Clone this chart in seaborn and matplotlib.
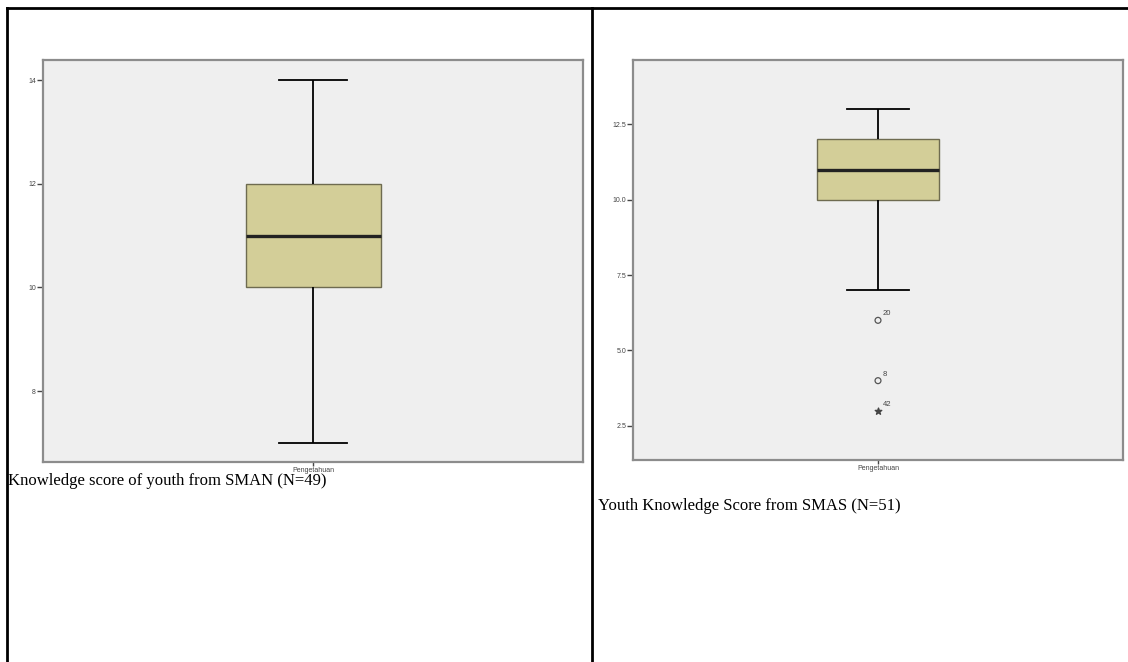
import numpy as np
import pandas as pd
import matplotlib
matplotlib.use('Agg')
import matplotlib.pyplot as plt
import seaborn as sns
from matplotlib.lines import Line2D

# score distributions (value -> count)
sman_scores = [7, 8, 9, 10, 11, 12, 13, 14]
sman_counts = [1, 2, 4, 9, 14, 10, 6, 3]          # N=49

smas_scores = [3, 4, 6, 7, 8, 9, 10, 11, 12, 13]
smas_counts = [1, 1, 1, 1, 2, 4, 8, 14, 14, 5]     # N=51

# outliers in the SMAS plot with their case numbers
out_values = [6, 4, 3]
out_cases = ["20", "8", "42"]
out_marker = ["o", "o", "*"]

var_name = "Pengetahuan"
captions = ["Knowledge score of youth from SMAN (N=49)",
            "Youth Knowledge Score from SMAS (N=51)"]

sman = pd.DataFrame({"var": var_name, "score": np.repeat(sman_scores, sman_counts)})
smas = pd.DataFrame({"var": var_name, "score": np.repeat(smas_scores, smas_counts)})

W, H = 1128, 662
fig = plt.figure(figsize=(W / 100, H / 100), dpi=100)

def px_axes(x0, y0, x1, y1):
    return fig.add_axes([x0 / W, 1 - y1 / H, (x1 - x0) / W, (y1 - y0) / H])

box_color = "#D3CE98"
bg = "#EFEFEF"
spine_col = "#8C8C8C"

def spss_box(ax, df, ylim, yticks, fmt):
    ax.set_facecolor(bg)
    sns.boxplot(data=df, x="var", y="score", ax=ax, width=0.25, color=box_color,
                saturation=1, linecolor="black", linewidth=1.3, showfliers=False,
                whis=1.5, medianprops=dict(linewidth=2.4, color="#222222"),
                boxprops=dict(edgecolor="#6E6B50", linewidth=1.0))
    ax.set_xlim(-0.5, 0.5)
    ax.set_ylim(*ylim)
    ax.set_yticks(yticks)
    ax.set_yticklabels([fmt.format(t) for t in yticks])
    ax.set_xlabel("")
    ax.set_ylabel("")
    ax.grid(False)
    for s in ax.spines.values():
        s.set_color(spine_col)
        s.set_linewidth(1.6)
        s.set_visible(True)
    ax.tick_params(axis="both", labelsize=5, colors="#444444", length=4,
                   width=1.0, pad=1)
    ax.tick_params(axis="x", length=3, pad=0.5)
    for lab in ax.get_xticklabels() + ax.get_yticklabels():
        lab.set_fontfamily("Liberation Sans")

ax1 = px_axes(43, 60, 583, 462)
spss_box(ax1, sman, (6.63, 14.39), [8, 10, 12, 14], "{:.0f}")

ax2 = px_axes(633, 60, 1123, 460)
spss_box(ax2, smas, (1.37, 14.63), [2.5, 5.0, 7.5, 10.0, 12.5], "{:.1f}")

for v, c, m in zip(out_values, out_cases, out_marker):
    if m == "o":
        ax2.scatter([0], [v], s=18, marker="o", facecolors="none",
                    edgecolors="#555555", linewidths=0.9, zorder=5)
    else:
        ax2.scatter([0], [v], s=24, marker="*", color="#444444", zorder=5)
    ax2.annotate(c, (0, v), xytext=(3.5, 3.5), textcoords="offset points",
                 fontsize=5.5, color="#444444", family="Liberation Sans")

# table frame around the two cells
frame_kw = dict(color="black", linewidth=2.0, transform=fig.transFigure)
fig.add_artist(Line2D([7 / W, 1], [1 - 8 / H, 1 - 8 / H], **frame_kw))
fig.add_artist(Line2D([7 / W, 7 / W], [0, 1 - 8 / H], **frame_kw))
fig.add_artist(Line2D([592 / W, 592 / W], [0, 1 - 8 / H], **frame_kw))

fig.text(8 / W, 1 - 481 / H, captions[0], fontsize=12, family="Liberation Serif",
         va="center", ha="left")
fig.text(598 / W, 1 - 506 / H, captions[1], fontsize=12, family="Liberation Serif",
         va="center", ha="left")

fig.savefig("out.png", dpi=100, facecolor="white")
